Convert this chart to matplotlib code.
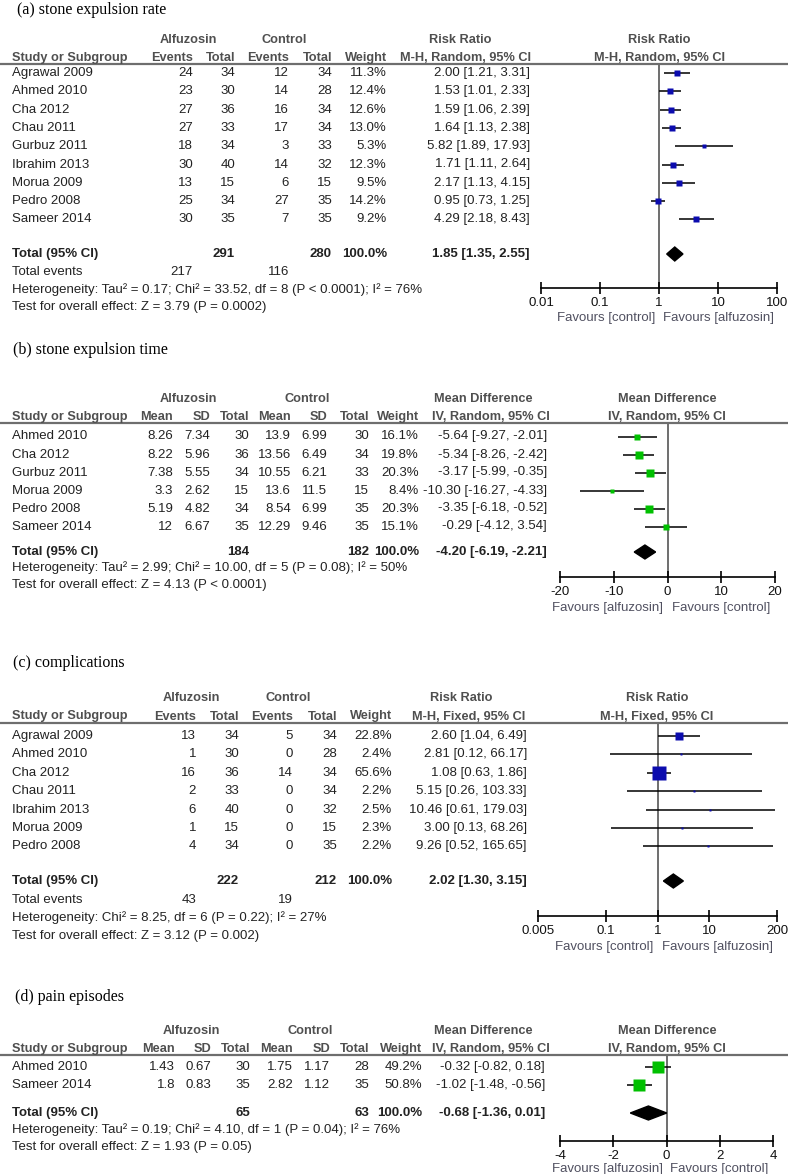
import matplotlib
matplotlib.use('Agg')
import matplotlib.pyplot as plt
from matplotlib.lines import Line2D
from matplotlib.patches import Polygon

# ---- (a) stone expulsion rate
a_studies = ['Agrawal 2009', 'Ahmed 2010', 'Cha 2012', 'Chau 2011', 'Gurbuz 2011',
             'Ibrahim 2013', 'Morua 2009', 'Pedro 2008', 'Sameer 2014']
a_alf_events = [24, 23, 27, 27, 18, 30, 13, 25, 30]
a_alf_total = [34, 30, 36, 33, 34, 40, 15, 34, 35]
a_ctl_events = [12, 14, 16, 17, 3, 14, 6, 27, 7]
a_ctl_total = [34, 28, 34, 34, 33, 32, 15, 35, 35]
a_weight = [11.3, 12.4, 12.6, 13.0, 5.3, 12.3, 9.5, 14.2, 9.2]
a_rr = [2.00, 1.53, 1.59, 1.64, 5.82, 1.71, 2.17, 0.95, 4.29]
a_lo = [1.21, 1.01, 1.06, 1.13, 1.89, 1.11, 1.13, 0.73, 2.18]
a_hi = [3.31, 2.33, 2.39, 2.38, 17.93, 2.64, 4.15, 1.25, 8.43]
a_pooled = [1.85, 1.35, 2.55]
a_sums = [291, 280]
a_events = [217, 116]
a_het = 'Heterogeneity: Tau² = 0.17; Chi² = 33.52, df = 8 (P < 0.0001); I² = 76%'
a_test = 'Test for overall effect: Z = 3.79 (P = 0.0002)'

# ---- (b) stone expulsion time
b_studies = ['Ahmed 2010', 'Cha 2012', 'Gurbuz 2011', 'Morua 2009', 'Pedro 2008', 'Sameer 2014']
b_alf_mean = [8.26, 8.22, 7.38, 3.3, 5.19, 12]
b_alf_sd = [7.34, 5.96, 5.55, 2.62, 4.82, 6.67]
b_alf_n = [30, 36, 34, 15, 34, 35]
b_ctl_mean = [13.9, 13.56, 10.55, 13.6, 8.54, 12.29]
b_ctl_sd = [6.99, 6.49, 6.21, 11.5, 6.99, 9.46]
b_ctl_n = [30, 34, 33, 15, 35, 35]
b_weight = [16.1, 19.8, 20.3, 8.4, 20.3, 15.1]
b_md = [-5.64, -5.34, -3.17, -10.30, -3.35, -0.29]
b_lo = [-9.27, -8.26, -5.99, -16.27, -6.18, -4.12]
b_hi = [-2.01, -2.42, -0.35, -4.33, -0.52, 3.54]
b_pooled = [-4.20, -6.19, -2.21]
b_sums = [184, 182]
b_het = 'Heterogeneity: Tau² = 2.99; Chi² = 10.00, df = 5 (P = 0.08); I² = 50%'
b_test = 'Test for overall effect: Z = 4.13 (P < 0.0001)'

# ---- (c) complications
c_studies = ['Agrawal 2009', 'Ahmed 2010', 'Cha 2012', 'Chau 2011', 'Ibrahim 2013',
             'Morua 2009', 'Pedro 2008']
c_alf_events = [13, 1, 16, 2, 6, 1, 4]
c_alf_total = [34, 30, 36, 33, 40, 15, 34]
c_ctl_events = [5, 0, 14, 0, 0, 0, 0]
c_ctl_total = [34, 28, 34, 34, 32, 15, 35]
c_weight = [22.8, 2.4, 65.6, 2.2, 2.5, 2.3, 2.2]
c_rr = [2.60, 2.81, 1.08, 5.15, 10.46, 3.00, 9.26]
c_lo = [1.04, 0.12, 0.63, 0.26, 0.61, 0.13, 0.52]
c_hi = [6.49, 66.17, 1.86, 103.33, 179.03, 68.26, 165.65]
c_pooled = [2.02, 1.30, 3.15]
c_sums = [222, 212]
c_events = [43, 19]
c_het = 'Heterogeneity: Chi² = 8.25, df = 6 (P = 0.22); I² = 27%'
c_test = 'Test for overall effect: Z = 3.12 (P = 0.002)'

# ---- (d) pain episodes
d_studies = ['Ahmed 2010', 'Sameer 2014']
d_alf_mean = [1.43, 1.8]
d_alf_sd = [0.67, 0.83]
d_alf_n = [30, 35]
d_ctl_mean = [1.75, 2.82]
d_ctl_sd = [1.17, 1.12]
d_ctl_n = [28, 35]
d_weight = [49.2, 50.8]
d_md = [-0.32, -1.02]
d_lo = [-0.82, -1.48]
d_hi = [0.18, -0.56]
d_pooled = [-0.68, -1.36, 0.01]
d_sums = [65, 63]
d_het = 'Heterogeneity: Tau² = 0.19; Chi² = 4.10, df = 1 (P = 0.04); I² = 76%'
d_test = 'Test for overall effect: Z = 1.93 (P = 0.05)'

W, H = 788, 1174
fig = plt.figure(figsize=(W / 100, H / 100), dpi=100)

SANS = 'Liberation Sans'
SERIF = 'Liberation Serif'
ROW_C = '#222222'
HEAD_C = '#4f4f4f'
FAV_C = '#505060'
BLUE = '#0c0cae'
GREEN = '#00c000'


def put(x, y, s, ha='left', bold=False, color=ROW_C, size=9.5, family=SANS):
    fig.text(x / W, 1 - y / H, s, ha=ha, va='center', fontsize=size, family=family,
             fontweight='bold' if bold else 'normal', color=color)


def hline(y):
    fig.add_artist(Line2D([0, 1], [1 - y / H] * 2, color='#6e6e6e', lw=1.6,
                          transform=fig.transFigure))


def fmt_ci(e, l, h):
    return '{:.2f} [{:.2f}, {:.2f}]'.format(e, l, h)


def forest(x0, x1, ytop, ybot, xlim, null, ticks, labels, log=False):
    ax = fig.add_axes([x0 / W, 1 - ybot / H, (x1 - x0) / W, (ybot - ytop) / H])
    if log:
        ax.set_xscale('log')
    ax.set_xlim(xlim)
    ax.set_ylim(ybot, ytop)
    ax.patch.set_alpha(0)
    for s in ['top', 'left', 'right']:
        ax.spines[s].set_visible(False)
    ax.spines['bottom'].set_linewidth(1.2)
    ax.set_yticks([])
    ax.set_xticks(ticks)
    ax.set_xticklabels(labels)
    ax.minorticks_off()
    ax.tick_params(axis='x', direction='inout', length=9, width=1.2, pad=2,
                   labelsize=9.5, labelcolor='#111111')
    for t in ax.get_xticklabels():
        t.set_family(SANS)
    ax.axvline(null, color='#555555', lw=1.2, zorder=1)
    return ax


def studies_marks(ax, ys, est, lo, hi, w, color):
    ax.hlines(ys, lo, hi, color='black', lw=1.1, zorder=2)
    for y, e, wt in zip(ys, est, w):
        ax.plot(e, y, 's', ms=1.2 * wt ** 0.5, color=color, mec='none', zorder=3)


def diamond(ax, y, pooled, h=7):
    e, l, u = pooled
    ax.add_patch(Polygon([(l, y), (e, y - h), (u, y), (e, y + h)], closed=True,
                         color='black', zorder=3))


def fav(ynull_x, y, left, right):
    put(ynull_x - 4, y, left, ha='right', color=FAV_C)
    put(ynull_x + 4, y, right, ha='left', color=FAV_C)


# =================== (a) ===================
put(17, 10, '(a) stone expulsion rate', family=SERIF, size=11.5, color='black')
put(188, 40, 'Alfuzosin', ha='center', bold=True, color=HEAD_C, size=9.2)
put(284, 40, 'Control', ha='center', bold=True, color=HEAD_C, size=9.2)
put(460, 40, 'Risk Ratio', ha='center', bold=True, color=HEAD_C, size=9.2)
put(659, 40, 'Risk Ratio', ha='center', bold=True, color=HEAD_C, size=9.2)
cols_a = [193, 235, 289, 332, 387]
for x, s in zip(cols_a, ['Events', 'Total', 'Events', 'Total', 'Weight']):
    put(x, 58, s, ha='right', bold=True, color=HEAD_C, size=9.2)
put(12, 58, 'Study or Subgroup', bold=True, color=HEAD_C, size=9.2)
put(465, 58, 'M-H, Random, 95% CI', ha='center', bold=True, color=HEAD_C, size=9.2)
put(659, 58, 'M-H, Random, 95% CI', ha='center', bold=True, color=HEAD_C, size=9.2)
hline(64)

ya = [73 + 18.3 * i for i in range(len(a_studies))]
for i, y in enumerate(ya):
    put(12, y, a_studies[i])
    vals = [a_alf_events[i], a_alf_total[i], a_ctl_events[i], a_ctl_total[i]]
    for x, v in zip(cols_a[:4], vals):
        put(x, y, str(v), ha='right')
    put(cols_a[4], y, '{:.1f}%'.format(a_weight[i]), ha='right')
    put(530, y, fmt_ci(a_rr[i], a_lo[i], a_hi[i]), ha='right')
yt = 254
put(12, yt, 'Total (95% CI)', bold=True)
put(235, yt, str(a_sums[0]), ha='right', bold=True)
put(332, yt, str(a_sums[1]), ha='right', bold=True)
put(387, yt, '100.0%', ha='right', bold=True)
put(530, yt, fmt_ci(*a_pooled), ha='right', bold=True)
put(12, 272, 'Total events')
put(193, 272, str(a_events[0]), ha='right')
put(289, 272, str(a_events[1]), ha='right')
put(12, 290, a_het)
put(12, 307, a_test)

ax = forest(541, 777, 64, 288, (0.01, 100), 1, [0.01, 0.1, 1, 10, 100],
            ['0.01', '0.1', '1', '10', '100'], log=True)
studies_marks(ax, ya, a_rr, a_lo, a_hi, a_weight, BLUE)
diamond(ax, yt, a_pooled)
fav(659, 318, 'Favours [control]', 'Favours [alfuzosin]')

# =================== (b) ===================
put(13, 350, '(b) stone expulsion time', family=SERIF, size=11.5, color='black')
put(188, 399, 'Alfuzosin', ha='center', bold=True, color=HEAD_C, size=9.2)
put(307, 399, 'Control', ha='center', bold=True, color=HEAD_C, size=9.2)
put(483, 399, 'Mean Difference', ha='center', bold=True, color=HEAD_C, size=9.2)
put(667, 399, 'Mean Difference', ha='center', bold=True, color=HEAD_C, size=9.2)
cols_b = [173, 210, 249, 291, 327, 369, 419]
for x, s in zip(cols_b, ['Mean', 'SD', 'Total', 'Mean', 'SD', 'Total', 'Weight']):
    put(x, 417, s, ha='right', bold=True, color=HEAD_C, size=9.2)
put(12, 417, 'Study or Subgroup', bold=True, color=HEAD_C, size=9.2)
put(491, 417, 'IV, Random, 95% CI', ha='center', bold=True, color=HEAD_C, size=9.2)
put(667, 417, 'IV, Random, 95% CI', ha='center', bold=True, color=HEAD_C, size=9.2)
hline(423)

yb = [436.5 + 18 * i for i in range(len(b_studies))]
for i, y in enumerate(yb):
    put(12, y, b_studies[i])
    vals = [b_alf_mean[i], b_alf_sd[i], b_alf_n[i], b_ctl_mean[i], b_ctl_sd[i], b_ctl_n[i]]
    for x, v in zip(cols_b[:6], vals):
        put(x, y, '{:g}'.format(v), ha='right')
    put(cols_b[6], y, '{:.1f}%'.format(b_weight[i]), ha='right')
    put(547, y, fmt_ci(b_md[i], b_lo[i], b_hi[i]), ha='right')
yt = 552
put(12, yt, 'Total (95% CI)', bold=True)
put(249, yt, str(b_sums[0]), ha='right', bold=True)
put(369, yt, str(b_sums[1]), ha='right', bold=True)
put(419, yt, '100.0%', ha='right', bold=True)
put(547, yt, fmt_ci(*b_pooled), ha='right', bold=True)
put(12, 568, b_het)
put(12, 585, b_test)

ax = forest(560, 775, 423, 577, (-20, 20), 0, [-20, -10, 0, 10, 20],
            ['-20', '-10', '0', '10', '20'])
studies_marks(ax, yb, b_md, b_lo, b_hi, b_weight, GREEN)
diamond(ax, yt, b_pooled)
fav(667.5, 608, 'Favours [alfuzosin]', 'Favours [control]')

# =================== (c) ===================
put(13, 663, '(c) complications', family=SERIF, size=11.5, color='black')
put(191, 698, 'Alfuzosin', ha='center', bold=True, color=HEAD_C, size=9.2)
put(288, 698, 'Control', ha='center', bold=True, color=HEAD_C, size=9.2)
put(461, 698, 'Risk Ratio', ha='center', bold=True, color=HEAD_C, size=9.2)
put(657, 698, 'Risk Ratio', ha='center', bold=True, color=HEAD_C, size=9.2)
cols_c = [196, 239, 293, 337, 392]
for x, s in zip(cols_c, ['Events', 'Total', 'Events', 'Total', 'Weight']):
    put(x, 716.5, s, ha='right', bold=True, color=HEAD_C, size=9.2)
put(12, 716.5, 'Study or Subgroup', bold=True, color=HEAD_C, size=9.2)
put(469, 716.5, 'M-H, Fixed, 95% CI', ha='center', bold=True, color=HEAD_C, size=9.2)
put(657, 716.5, 'M-H, Fixed, 95% CI', ha='center', bold=True, color=HEAD_C, size=9.2)
hline(722.5)

yc = [736 + 18.4 * i for i in range(len(c_studies))]
for i, y in enumerate(yc):
    put(12, y, c_studies[i])
    vals = [c_alf_events[i], c_alf_total[i], c_ctl_events[i], c_ctl_total[i]]
    for x, v in zip(cols_c[:4], vals):
        put(x, y, str(v), ha='right')
    put(cols_c[4], y, '{:.1f}%'.format(c_weight[i]), ha='right')
    put(527, y, fmt_ci(c_rr[i], c_lo[i], c_hi[i]), ha='right')
yt = 881
put(12, yt, 'Total (95% CI)', bold=True)
put(239, yt, str(c_sums[0]), ha='right', bold=True)
put(337, yt, str(c_sums[1]), ha='right', bold=True)
put(392, yt, '100.0%', ha='right', bold=True)
put(527, yt, fmt_ci(*c_pooled), ha='right', bold=True)
put(12, 900, 'Total events')
put(196, 900, str(c_events[0]), ha='right')
put(293, 900, str(c_events[1]), ha='right')
put(12, 918, c_het)
put(12, 936, c_test)

ax = forest(538, 777, 722.5, 916, (0.005, 200), 1, [0.005, 0.1, 1, 10, 200],
            ['0.005', '0.1', '1', '10', '200'], log=True)
studies_marks(ax, yc, c_rr, c_lo, c_hi, c_weight, BLUE)
diamond(ax, yt, c_pooled)
fav(657.5, 947, 'Favours [control]', 'Favours [alfuzosin]')

# =================== (d) ===================
put(15, 997, '(d) pain episodes', family=SERIF, size=11.5, color='black')
put(191, 1031, 'Alfuzosin', ha='center', bold=True, color=HEAD_C, size=9.2)
put(310, 1031, 'Control', ha='center', bold=True, color=HEAD_C, size=9.2)
put(483, 1031, 'Mean Difference', ha='center', bold=True, color=HEAD_C, size=9.2)
put(667, 1031, 'Mean Difference', ha='center', bold=True, color=HEAD_C, size=9.2)
cols_d = [175, 211, 250, 293, 330, 369, 422]
for x, s in zip(cols_d, ['Mean', 'SD', 'Total', 'Mean', 'SD', 'Total', 'Weight']):
    put(x, 1049, s, ha='right', bold=True, color=HEAD_C, size=9.2)
put(12, 1049, 'Study or Subgroup', bold=True, color=HEAD_C, size=9.2)
put(491, 1049, 'IV, Random, 95% CI', ha='center', bold=True, color=HEAD_C, size=9.2)
put(667, 1049, 'IV, Random, 95% CI', ha='center', bold=True, color=HEAD_C, size=9.2)
hline(1054.5)

yd = [1067 + 18 * i for i in range(len(d_studies))]
for i, y in enumerate(yd):
    put(12, y, d_studies[i])
    vals = [d_alf_mean[i], d_alf_sd[i], d_alf_n[i], d_ctl_mean[i], d_ctl_sd[i], d_ctl_n[i]]
    for x, v in zip(cols_d[:6], vals):
        put(x, y, '{:g}'.format(v), ha='right')
    put(cols_d[6], y, '{:.1f}%'.format(d_weight[i]), ha='right')
    put(545, y, fmt_ci(d_md[i], d_lo[i], d_hi[i]), ha='right')
yt = 1113
put(12, yt, 'Total (95% CI)', bold=True)
put(250, yt, str(d_sums[0]), ha='right', bold=True)
put(369, yt, str(d_sums[1]), ha='right', bold=True)
put(422, yt, '100.0%', ha='right', bold=True)
put(545, yt, fmt_ci(*d_pooled), ha='right', bold=True)
put(12, 1130, d_het)
put(12, 1147, d_test)

ax = forest(560, 773, 1054.5, 1141, (-4, 4), 0, [-4, -2, 0, 2, 4],
            ['-4', '-2', '0', '2', '4'])
studies_marks(ax, yd, d_md, d_lo, d_hi, d_weight, GREEN)
diamond(ax, yt, d_pooled)
fav(666.5, 1169, 'Favours [alfuzosin]', 'Favours [control]')

fig.savefig('out.png', dpi=100)
